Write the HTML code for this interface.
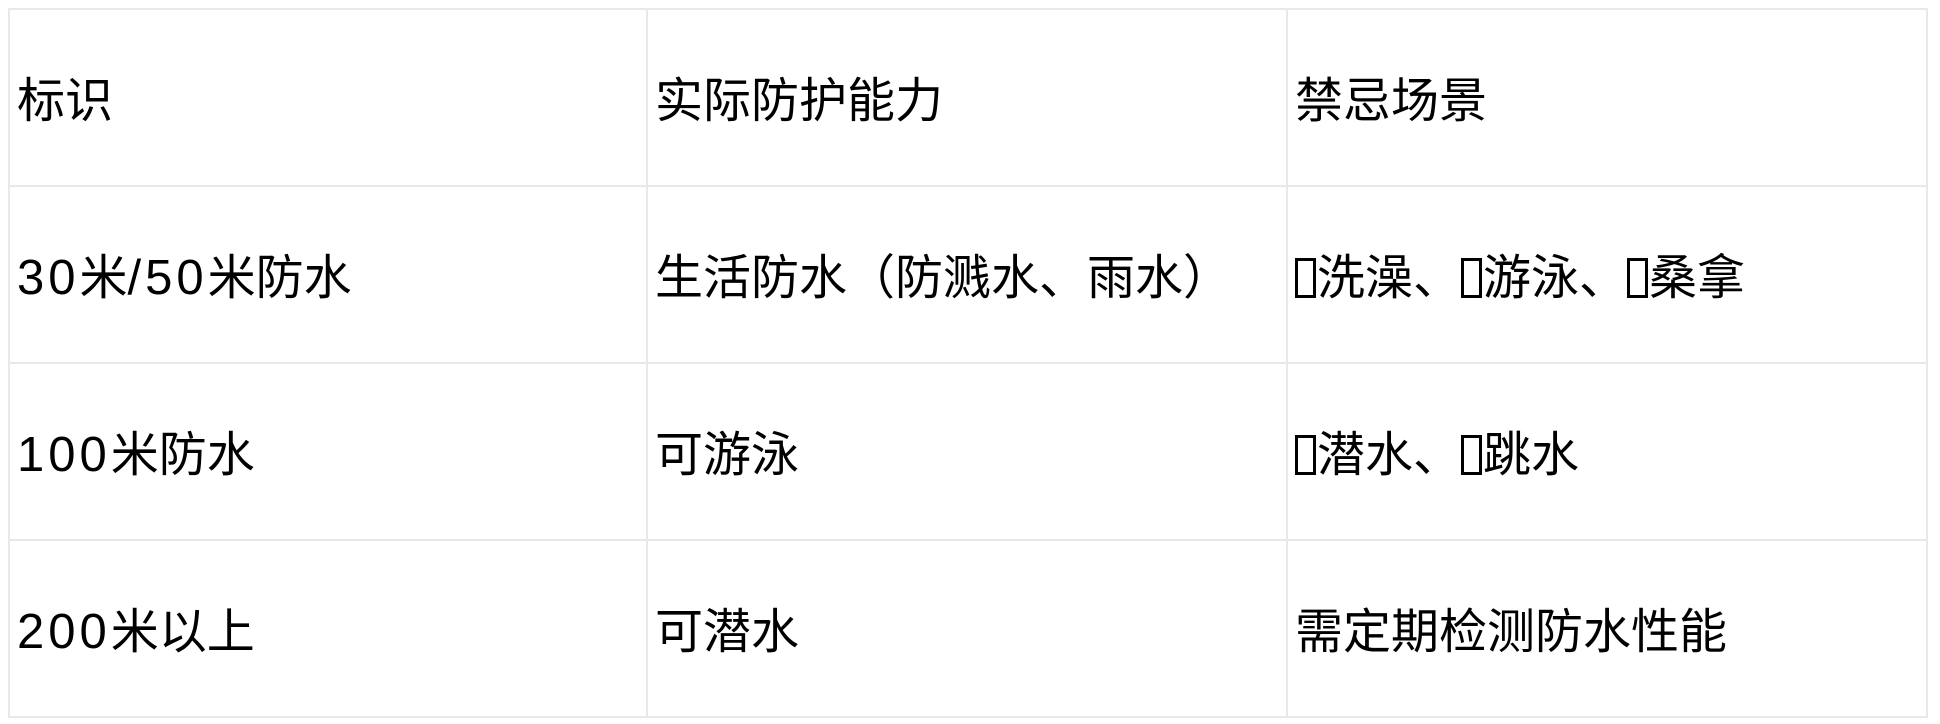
<!DOCTYPE html>
<html><head><meta charset="utf-8"><style>
html,body{margin:0;padding:0;background:#fff;width:1940px;height:724px;overflow:hidden}
table{position:absolute;left:8px;top:8px;border-collapse:collapse;width:1920px;font-family:"Liberation Sans","Noto Sans CJK SC",sans-serif;font-size:48px;color:#000;table-layout:fixed}
td{border:2px solid #e8e8ec;height:177px;padding:0 0 4px 7px;box-sizing:border-box;vertical-align:middle;white-space:nowrap}
td.a{width:638px}td.b{width:640px}
.n{letter-spacing:4px;font-size:49px}
.x{display:inline-block;width:21px;height:40px;border:3px solid #000;box-sizing:border-box;vertical-align:-4px;margin-right:1px}
</style></head><body>
<table>
<tr><td class="a">标识</td><td class="b">实际防护能力</td><td>禁忌场景</td></tr>
<tr><td class="a"><span class="n">30</span>米<span class="n">/50</span>米防水</td><td class="b">生活防水（防溅水、雨水）</td><td><span class="x"></span>洗澡、<span class="x"></span>游泳、<span class="x"></span>桑拿</td></tr>
<tr><td class="a"><span class="n">100</span>米防水</td><td class="b">可游泳</td><td><span class="x"></span>潜水、<span class="x"></span>跳水</td></tr>
<tr><td class="a"><span class="n">200</span>米以上</td><td class="b">可潜水</td><td>需定期检测防水性能</td></tr>
</table>
</body></html>
